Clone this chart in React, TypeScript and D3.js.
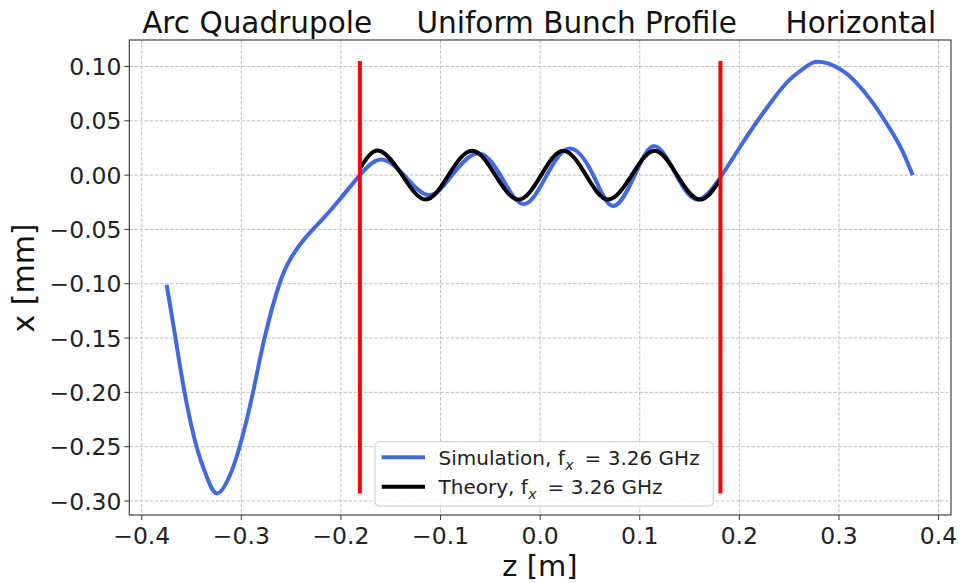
import React from "react";
import * as d3 from "d3";

// Simulated horizontal offset along the bunch (z in m, x in mm)
const simZ = [
  -0.375, -0.367, -0.357, -0.345, -0.335, -0.325, -0.3133, -0.3017, -0.2883,
  -0.2767, -0.2617, -0.25, -0.236, -0.218, -0.2, -0.181, -0.16, -0.1367,
  -0.1117, -0.0883, -0.0633, -0.04, -0.0167, 0.0067, 0.03, 0.0533, 0.0733,
  0.095, 0.115, 0.1367, 0.158, 0.181, 0.2, 0.2167, 0.2333, 0.25, 0.2667, 0.28,
  0.3, 0.3167, 0.3333, 0.35, 0.3633, 0.374,
];
const simX = [
  -0.101, -0.145, -0.2, -0.25, -0.277, -0.293, -0.28, -0.25, -0.2, -0.15, -0.1,
  -0.076, -0.058, -0.04, -0.021, 0.0, 0.0144, 0.0, -0.0184, 0.0, 0.02, 0.0,
  -0.0267, 0.0, 0.0245, 0.0, -0.0285, 0.0, 0.0267, 0.0, -0.0224, -0.002, 0.025,
  0.048, 0.069, 0.0874, 0.0997, 0.1043, 0.0982, 0.0858, 0.0674, 0.0444, 0.023,
  0.0,
];

// Theoretical oscillation inside the uniform bunch
const theoryZ = [
  -0.181, -0.162, -0.1385, -0.115, -0.092, -0.0683, -0.045, -0.0217, 0.001,
  0.0233, 0.046, 0.0683, 0.092, 0.115, 0.1375, 0.16, 0.181,
];
const theoryX = [
  0.006, 0.0225, 0.0, -0.0225, 0.0, 0.0225, 0.0, -0.0225, 0.0, 0.0225, 0.0,
  -0.0225, 0.0, 0.0225, 0.0, -0.0225, -0.004,
];

// Bunch edges
const edgeZ = [-0.181, 0.181];
const edgeRange = [-0.293, 0.105];

const xTickValues = [-0.4, -0.3, -0.2, -0.1, 0.0, 0.1, 0.2, 0.3, 0.4];
const xTickLabels = ["−0.4", "−0.3", "−0.2", "−0.1", "0.0", "0.1", "0.2", "0.3", "0.4"];
const yTickValues = [0.1, 0.05, 0.0, -0.05, -0.1, -0.15, -0.2, -0.25, -0.3];
const yTickLabels = ["0.10", "0.05", "0.00", "−0.05", "−0.10", "−0.15", "−0.20", "−0.25", "−0.30"];

const legendNames = ["Simulation, f", "Theory, f"];
const legendValue = "= 3.26 GHz";
const legendColors = ["#4169e1", "#000000"];

const FONT = "DejaVu Sans";

export default function App() {
  const left = 129.3;
  const right = 951;
  const top = 40;
  const bottom = 515;

  const x = d3.scaleLinear().domain([-0.4125, 0.4125]).range([left, right]);
  const y = d3.scaleLinear().domain([-0.3129, 0.1244]).range([bottom, top]);

  const line = d3
    .line<[number, number]>()
    .x((d) => x(d[0]))
    .y((d) => y(d[1]))
    .curve(d3.curveNatural);

  const simPts = simZ.map((z, i) => [z, simX[i]] as [number, number]);
  const theoryPts = theoryZ.map((z, i) => [z, theoryX[i]] as [number, number]);

  return (
    <svg
      width={960}
      height={583}
      style={{ position: "absolute", left: 0, top: 0, background: "#fff" }}
      fontFamily={FONT}
    >
      <defs>
        <clipPath id="plot-area">
          <rect x={left} y={top} width={right - left} height={bottom - top} />
        </clipPath>
      </defs>

      {/* grid */}
      <g stroke="#c0c0c0" strokeWidth={1} strokeDasharray="3.5,1.6">
        {xTickValues.map((v) => (
          <line key={"gx" + v} x1={x(v)} x2={x(v)} y1={top} y2={bottom} />
        ))}
        {yTickValues.map((v) => (
          <line key={"gy" + v} x1={left} x2={right} y1={y(v)} y2={y(v)} />
        ))}
      </g>

      <g clipPath="url(#plot-area)" fill="none" strokeLinejoin="round">
        <path d={line(simPts) || ""} stroke={legendColors[0]} strokeWidth={4} />
        <path d={line(theoryPts) || ""} stroke={legendColors[1]} strokeWidth={4} />
        {edgeZ.map((z) => (
          <line
            key={"edge" + z}
            x1={x(z)}
            x2={x(z)}
            y1={y(edgeRange[0])}
            y2={y(edgeRange[1])}
            stroke="#ff0000"
            strokeWidth={4}
          />
        ))}
      </g>

      {/* frame */}
      <rect
        x={left}
        y={top}
        width={right - left}
        height={bottom - top}
        fill="none"
        stroke="#333"
        strokeWidth={1.1}
      />

      {/* x axis */}
      <g>
        {xTickValues.map((v, i) => (
          <g key={"xt" + v}>
            <line x1={x(v)} x2={x(v)} y1={bottom} y2={bottom + 5} stroke="#333" strokeWidth={1} />
            <text x={x(v)} y={544} textAnchor="middle" fontSize={23.5} fill="#222">
              {xTickLabels[i]}
            </text>
          </g>
        ))}
        <text x={540} y={576} textAnchor="middle" fontSize={29} fill="#111">
          z [m]
        </text>
      </g>

      {/* y axis */}
      <g>
        {yTickValues.map((v, i) => (
          <g key={"yt" + v}>
            <line x1={left - 5} x2={left} y1={y(v)} y2={y(v)} stroke="#333" strokeWidth={1} />
            <text x={121.5} y={y(v) + 8.6} textAnchor="end" fontSize={23.5} fill="#222">
              {yTickLabels[i]}
            </text>
          </g>
        ))}
        <text
          transform="translate(34,278) rotate(-90)"
          textAnchor="middle"
          fontSize={30}
          fill="#111"
        >
          x [mm]
        </text>
      </g>

      {/* title */}
      <g fontSize={29.5} fill="#111">
        <text x={142.2} y={33.3}>Arc Quadrupole</text>
        <text x={416.5} y={33.3}>Uniform Bunch Profile</text>
        <text x={785.5} y={33.3}>Horizontal</text>
      </g>

      {/* legend */}
      <g>
        <rect
          x={375}
          y={441.7}
          width={338.3}
          height={64.3}
          rx={4}
          fill="#fff"
          fillOpacity={0.8}
          stroke="#cccccc"
          strokeWidth={1}
        />
        {legendNames.map((name, i) => {
          const rowY = 457.3 + i * 29.4;
          return (
            <g key={name}>
              <line x1={381.7} x2={425} y1={rowY} y2={rowY} stroke={legendColors[i]} strokeWidth={4} />
              <text x={438.5} y={rowY + 7.7} fontSize={20} fill="#222">
                {name}
                <tspan dx={0.5} dy={4.5} fontSize={14} fontStyle="italic">x</tspan>
                <tspan dx={11} dy={-4.5}>{legendValue}</tspan>
              </text>
            </g>
          );
        })}
      </g>
    </svg>
  );
}
